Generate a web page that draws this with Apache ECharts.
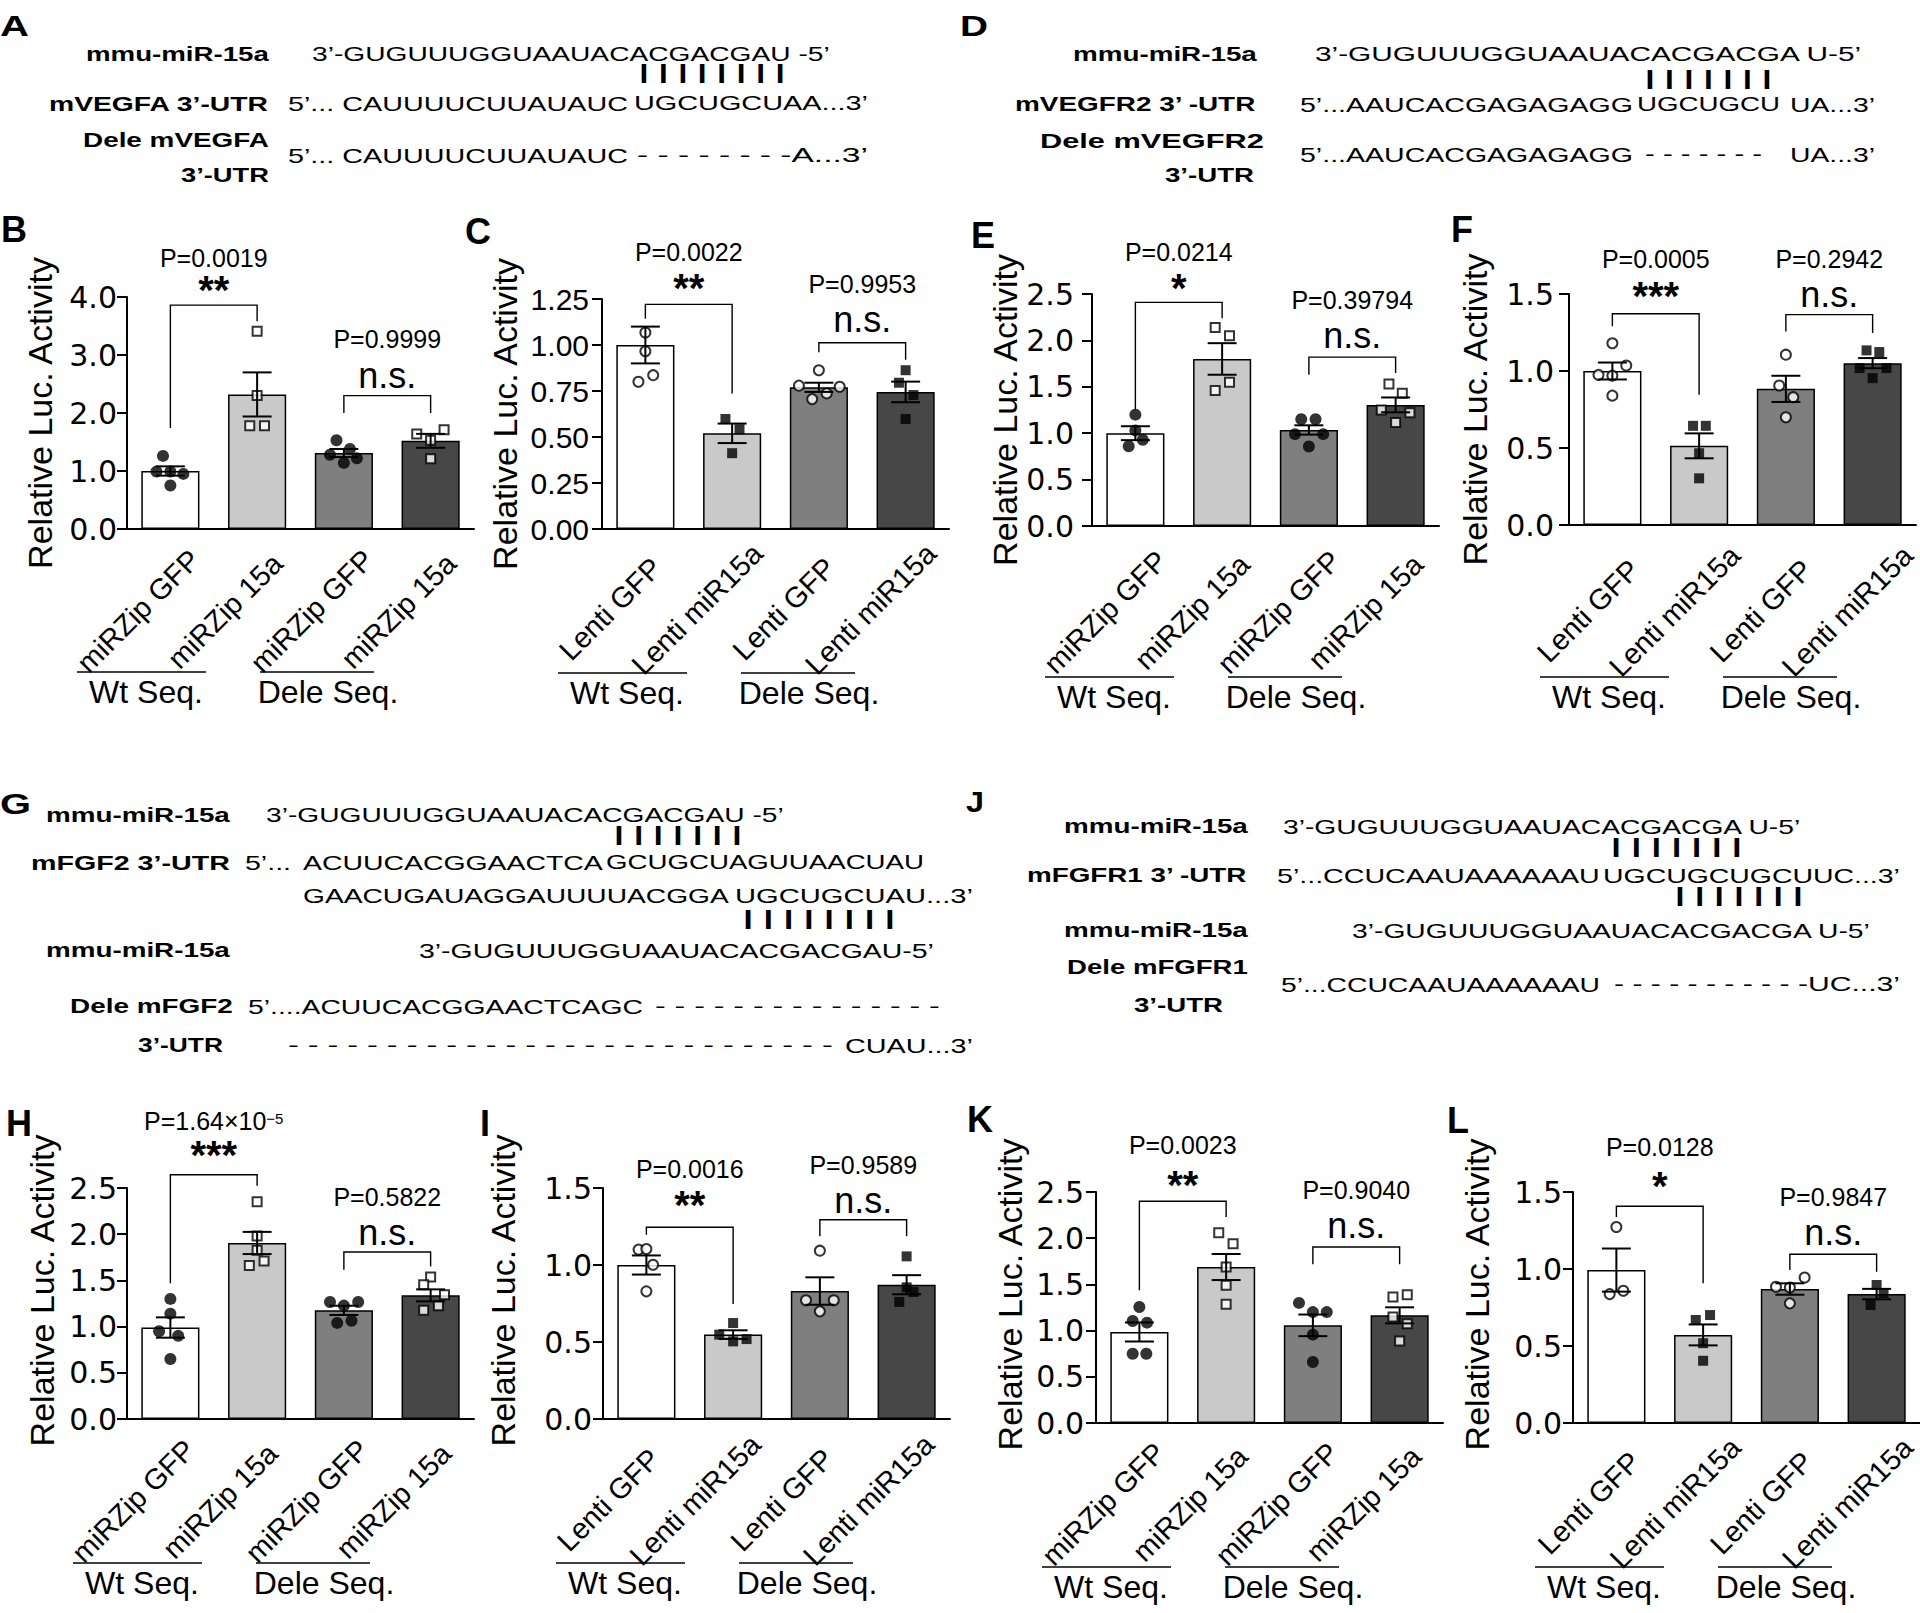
<!DOCTYPE html>
<html><head><meta charset="utf-8">
<script src="https://cdn.jsdelivr.net/npm/echarts@6/dist/echarts.min.js"></script>
<style>html,body{margin:0;padding:0;background:#fff}#c{width:1920px;height:1613px}</style>
</head><body><div id="c"></div>
<script>
// ---------------- DATA ----------------
const catsMiRZip = ['miRZip GFP', 'miRZip 15a', 'miRZip GFP', 'miRZip 15a'];
const catsLenti = ['Lenti GFP', 'Lenti miR15a', 'Lenti GFP', 'Lenti miR15a'];
const groupLabels = ['Wt Seq.', 'Dele Seq.'];
const yAxisTitle = 'Relative Luc. Activity';

const B_means = [1.00, 2.32, 1.31, 1.52];
const B_sem = [0.08, 0.38, 0.07, 0.12];
const B_points = [[1.26, 0.99, 0.99, 0.95, 0.75], [3.41, 2.30, 1.78, 1.78], [1.53, 1.28, 1.38, 1.22, 1.14], [1.64, 1.71, 1.53, 1.21]];
const B_jitter = [[-0.085, -0.16, 0, 0.15, 0], [0, 0, -0.085, 0.085], [-0.085, -0.16, 0.07, 0.15, 0], [-0.16, 0.155, 0, 0]];
const B_ticks = [0.0, 1.0, 2.0, 3.0, 4.0];
const B_pvalues = ['P=0.0019', 'P=0.9999'];
const B_sig = ['**', 'n.s.'];

const C_means = [1.00, 0.52, 0.77, 0.745];
const C_sem = [0.10, 0.053, 0.025, 0.056];
const C_points = [[1.068, 0.966, 0.80, 0.836], [0.598, 0.542, 0.412], [0.863, 0.779, 0.773, 0.706, 0.737], [0.863, 0.795, 0.728, 0.598]];
const C_jitter = [[0, 0, -0.08, 0.09], [-0.077, 0.085, 0], [0, -0.23, 0.24, -0.077, 0.09], [0, -0.077, 0.09, 0]];
const C_ticks = [0.00, 0.25, 0.50, 0.75, 1.00, 1.25];
const C_pvalues = ['P=0.0022', 'P=0.9953'];
const C_sig = ['**', 'n.s.'];

const E_means = [1.00, 1.80, 1.035, 1.305];
const E_sem = [0.075, 0.17, 0.05, 0.08];
const E_points = [[1.20, 1.03, 0.93, 0.86], [2.14, 2.05, 1.55, 1.46], [1.15, 1.15, 0.99, 0.99, 0.856], [1.53, 1.43, 1.25, 1.22, 1.115]];
const E_jitter = [[0, 0, 0.085, -0.077], [-0.08, 0.085, 0.085, -0.08], [-0.088, 0.077, -0.16, 0.165, 0], [-0.077, 0.077, -0.165, 0.165, 0]];
const E_ticks = [0.0, 0.5, 1.0, 1.5, 2.0, 2.5];
const E_pvalues = ['P=0.0214', 'P=0.39794'];
const E_sig = ['*', 'n.s.'];

const F_means = [1.00, 0.514, 0.884, 1.051];
const F_sem = [0.055, 0.081, 0.085, 0.033];
const F_points = [[1.18, 1.036, 0.975, 0.97, 0.84], [0.644, 0.644, 0.466, 0.303], [1.106, 0.906, 0.83, 0.70], [1.134, 1.123, 1.019, 1.019, 0.954]];
const F_jitter = [[0, 0.16, -0.16, 0, 0], [-0.07, 0.077, 0, 0], [0, -0.077, 0.085, 0], [-0.07, 0.077, -0.15, 0.16, 0]];
const F_ticks = [0.0, 0.5, 1.0, 1.5];
const F_pvalues = ['P=0.0005', 'P=0.2942'];
const F_sig = ['***', 'n.s.'];

const H_means = [0.99, 1.905, 1.176, 1.338];
const H_sem = [0.11, 0.12, 0.05, 0.065];
const H_points = [[1.30, 1.14, 0.95, 0.90, 0.65], [2.35, 1.98, 1.825, 1.66, 1.71], [1.266, 1.266, 1.227, 1.04, 1.064], [1.537, 1.454, 1.346, 1.227, 1.176]];
const H_jitter = [[0, 0, -0.13, 0.09, 0], [0, 0, 0, -0.09, 0.08], [-0.16, 0.165, 0, -0.077, 0.088], [0, -0.08, 0.16, 0.09, -0.08]];
const H_ticks = [0.0, 0.5, 1.0, 1.5, 2.0, 2.5];
const H_pvalues = ['P=1.64×10{sup|−5}', 'P=0.5822'];
const H_sig = ['***', 'n.s.'];

const I_means = [1.00, 0.548, 0.831, 0.872];
const I_sem = [0.062, 0.028, 0.089, 0.062];
const I_points = [[1.10, 1.104, 1.002, 0.829], [0.623, 0.548, 0.519, 0.504], [1.093, 0.771, 0.771, 0.699], [1.056, 0.855, 0.825, 0.76]];
const I_jitter = [[-0.09, 0, 0.077, 0], [0, -0.16, 0.155, 0], [0, -0.16, 0.16, 0], [0, 0, 0.08, -0.085]];
const I_ticks = [0.0, 0.5, 1.0, 1.5];
const I_pvalues = ['P=0.0016', 'P=0.9589'];
const I_sig = ['**', 'n.s.'];

const K_means = [0.985, 1.688, 1.057, 1.165];
const K_sem = [0.103, 0.141, 0.117, 0.087];
const K_points = [[1.255, 1.104, 1.086, 0.75, 0.75], [2.06, 1.94, 1.688, 1.49, 1.284], [1.30, 1.20, 1.20, 0.956, 0.66], [1.364, 1.389, 1.147, 1.075, 0.887]];
const K_jitter = [[0, -0.077, 0.088, -0.077, 0.08], [-0.085, 0.08, 0, 0, 0], [-0.16, 0, 0.16, 0, 0], [-0.077, 0.088, -0.077, 0.088, 0]];
const K_ticks = [0.0, 0.5, 1.0, 1.5, 2.0, 2.5];
const K_pvalues = ['P=0.0023', 'P=0.9040'];
const K_sig = ['**', 'n.s.'];

const L_means = [0.993, 0.572, 0.87, 0.837];
const L_sem = [0.14, 0.068, 0.037, 0.034];
const L_points = [[1.273, 0.837, 0.859], [0.669, 0.701, 0.518, 0.404], [0.885, 0.88, 0.945, 0.777], [0.896, 0.842, 0.766]];
const L_jitter = [[0, -0.077, 0.08], [-0.085, 0.08, 0, 0], [-0.16, 0, 0.17, 0], [0, 0.08, -0.07]];
const L_ticks = [0.0, 0.5, 1.0, 1.5];
const L_pvalues = ['P=0.0128', 'P=0.9847'];
const L_sig = ['*', 'n.s.'];

// bracket geometry in data units: [fromCat, toCat, topValue, leftLegEnd, rightLegEnd]
const B_brackets = [[0, 1, 3.86, 1.74, 3.58], [2, 3, 2.30, 2.0, 2.0]];
const C_brackets = [[0, 1, 1.221, 1.143, 0.737], [2, 3, 1.012, 0.96, 0.92]];
const E_brackets = [[0, 1, 2.41, 1.25, 2.24], [2, 3, 1.82, 1.63, 1.65]];
const F_brackets = [[0, 1, 1.372, 1.29, 0.845], [2, 3, 1.366, 1.257, 1.246]];
const H_brackets = [[0, 1, 2.644, 1.47, 2.525], [2, 3, 1.807, 1.616, 1.65]];
const I_brackets = [[0, 1, 1.245, 1.197, 0.747], [2, 3, 1.294, 1.186, 1.186]];
const K_brackets = [[0, 1, 2.40, 1.436, 2.23], [2, 3, 1.905, 1.717, 1.717]];
const L_brackets = [[0, 1, 1.407, 1.338, 0.907], [2, 3, 1.096, 0.993, 0.982]];

// ---------------- LAYOUT / STYLE ----------------
const FONT = '"Liberation Sans", Arial, sans-serif';
const WIDE = '"DejaVu Sans", sans-serif';
const BAR_COLORS = ['#ffffff', '#c9c9c9', '#7f7f7f', '#474747'];
const W = 347;
const P_SIZE = 25, NS_SIZE = 36, STAR_SIZE = 40;
const LAYOUT = {
  B: {x0: 127, top: 297, bottom: 529, labelDx: -32, labelDy: 82, tickMargin: 10, nameGap: 70, nameShift: 0, s: -3, gy: 143, gaps: [[38, 13], [46, 8]], letter: [14, 229], tickFont: WIDE},
  C: {x0: 602, top: 299, bottom: 529, labelDx: -35, labelDy: 80, tickMargin: 13, nameGap: 80, nameShift: 0, s: 3, gy: 144, gaps: [[44, 14], [45, 11]], letter: [478, 231], tickFont: FONT},
  E: {x0: 1092, top: 294, bottom: 526, labelDx: -30, labelDy: 86, tickMargin: 18, nameGap: 63, nameShift: 0, s: 0, gy: 151, gaps: [[42, 12], [46, 9]], letter: [983, 235], tickFont: WIDE},
  F: {x0: 1569, top: 294, bottom: 525, labelDx: -24, labelDy: 86, tickMargin: 15, nameGap: 77, nameShift: 0, s: 18, gy: 152, gaps: [[46, 16], [43, 8]], letter: [1462, 229], tickFont: WIDE},
  H: {x0: 127, top: 1188, bottom: 1419, labelDx: -37, labelDy: 82, tickMargin: 10, nameGap: 68, nameShift: 13, s: -7, gy: 144, gaps: [[45, 18], [43, 7]], letter: [19, 1123], tickFont: WIDE},
  I: {x0: 603, top: 1188, bottom: 1419, labelDx: -38, labelDy: 81, tickMargin: 11, nameGap: 83, nameShift: 13, s: 0, gy: 144, gaps: [[50, 20], [42, 7]], letter: [485, 1123], tickFont: WIDE},
  K: {x0: 1096, top: 1192, bottom: 1423, labelDx: -36, labelDy: 81, tickMargin: 12, nameGap: 69, nameShift: 13, s: -7, gy: 144, gaps: [[47, 14], [42, 9]], letter: [980, 1119], tickFont: WIDE},
  L: {x0: 1573, top: 1192, bottom: 1423, labelDx: -27, labelDy: 80, tickMargin: 11, nameGap: 79, nameShift: 13, s: 9, gy: 144, gaps: [[51, 18], [42, 9]], letter: [1458, 1120], tickFont: WIDE}
};

const panels = [
  {key: 'B', cats: catsMiRZip, means: B_means, sem: B_sem, pts: B_points, jit: B_jitter, ticks: B_ticks, pv: B_pvalues, sig: B_sig, br: B_brackets, dec: 1, lenti: false},
  {key: 'C', cats: catsLenti, means: C_means, sem: C_sem, pts: C_points, jit: C_jitter, ticks: C_ticks, pv: C_pvalues, sig: C_sig, br: C_brackets, dec: 2, lenti: true},
  {key: 'E', cats: catsMiRZip, means: E_means, sem: E_sem, pts: E_points, jit: E_jitter, ticks: E_ticks, pv: E_pvalues, sig: E_sig, br: E_brackets, dec: 1, lenti: false},
  {key: 'F', cats: catsLenti, means: F_means, sem: F_sem, pts: F_points, jit: F_jitter, ticks: F_ticks, pv: F_pvalues, sig: F_sig, br: F_brackets, dec: 1, lenti: true},
  {key: 'H', cats: catsMiRZip, means: H_means, sem: H_sem, pts: H_points, jit: H_jitter, ticks: H_ticks, pv: H_pvalues, sig: H_sig, br: H_brackets, dec: 1, lenti: false},
  {key: 'I', cats: catsLenti, means: I_means, sem: I_sem, pts: I_points, jit: I_jitter, ticks: I_ticks, pv: I_pvalues, sig: I_sig, br: I_brackets, dec: 1, lenti: true},
  {key: 'K', cats: catsMiRZip, means: K_means, sem: K_sem, pts: K_points, jit: K_jitter, ticks: K_ticks, pv: K_pvalues, sig: K_sig, br: K_brackets, dec: 1, lenti: false},
  {key: 'L', cats: catsLenti, means: L_means, sem: L_sem, pts: L_points, jit: L_jitter, ticks: L_ticks, pv: L_pvalues, sig: L_sig, br: L_brackets, dec: 1, lenti: true}
];

// sequence panels: [text, xLeft, xRight, yCenter, kind]
const seqTexts = [
  ['A', 0, 29, 26, 'letter'],
  ['mmu-miR-15a', 86, 269, 54, true],
  ['3’-GUGUUUGGUAAUACACGACGAU -5’', 312, 830, 54, false],
  ['| | | | | | | |', 639, 785, 72, 'bar'],
  ['mVEGFA 3’-UTR', 49, 269, 103, true],
  ['5’... CAUUUUCUUAUAUC', 288, 628, 103, false],
  ['UGCUGCUAA...3’', 634, 868, 103, false],
  ['Dele mVEGFA', 83, 269, 140, true],
  ['5’... CAUUUUCUUAUAUC', 288, 628, 155, false],
  ['- - - - - - - -A...3’', 637, 868, 155, false],
  ['3’-UTR', 181, 269, 175, true],

  ['D', 960, 988, 26, 'letter'],
  ['mmu-miR-15a', 1073, 1257, 54, true],
  ['3’-GUGUUUGGUAAUACACGACGA U-5’', 1315, 1863, 54, false],
  ['| | | | | | |', 1645, 1772, 78, 'bar'],
  ['mVEGFR2 3’ -UTR', 1015, 1257, 104, true],
  ['5’...AAUCACGAGAGAGG', 1300, 1633, 104, false],
  ['UGCUGCU', 1637, 1780, 104, false],
  ['UA...3’', 1790, 1875, 104, false],
  ['Dele mVEGFR2', 1040, 1264, 141, true],
  ['5’...AAUCACGAGAGAGG', 1300, 1633, 154, false],
  ['- - - - - - -', 1645, 1762, 154, false],
  ['UA...3’', 1790, 1875, 154, false],
  ['3’-UTR', 1165, 1254, 175, true],

  ['G', 0, 31, 803, 'letter'],
  ['mmu-miR-15a', 46, 230, 815, true],
  ['3’-GUGUUUGGUAAUACACGACGAU -5’', 266, 784, 815, false],
  ['| | | | | | |', 614, 742, 834, 'bar'],
  ['mFGF2 3’-UTR', 31, 230, 862, true],
  ['5’...', 245, 291, 862, false],
  ['ACUUCACGGAACTCA', 303, 603, 862, false],
  ['GCUGCUAGUUAACUAU', 606, 924, 862, false],
  ['GAACUGAUAGGAUUUUACGGA', 303, 729, 896, false],
  ['UGCUGCUAU...3’', 735, 973, 896, false],
  ['| | | | | | | |', 743, 895, 918, 'bar'],
  ['mmu-miR-15a', 46, 230, 950, true],
  ['3’-GUGUUUGGUAAUACACGACGAU-5’', 419, 934, 950, false],
  ['Dele mFGF2', 70, 233, 1006, true],
  ['5’....ACUUCACGGAACTCAGC', 248, 643, 1006, false],
  ['- - - - - - - - - - - - - - -', 655, 940, 1006, false],
  ['3’-UTR', 138, 223, 1045, true],
  ['- - - - - - - - - - - - - - - - - - - - - - - - - - - -', 288, 833, 1045, false],
  ['CUAU...3’', 845, 973, 1045, false],

  ['J', 966, 984, 802, 'letter'],
  ['mmu-miR-15a', 1064, 1248, 826, true],
  ['3’-GUGUUUGGUAAUACACGACGA U-5’', 1283, 1802, 826, false],
  ['| | | | | | |', 1611, 1742, 846, 'bar'],
  ['mFGFR1 3’ -UTR', 1027, 1248, 875, true],
  ['5’...CCUCAAUAAAAAAU', 1277, 1600, 875, false],
  ['UGCUGCUGCUUC...3’', 1603, 1900, 875, false],
  ['| | | | | | |', 1675, 1803, 895, 'bar'],
  ['mmu-miR-15a', 1064, 1248, 930, true],
  ['3’-GUGUUUGGUAAUACACGACGA U-5’', 1352, 1872, 930, false],
  ['Dele mFGFR1', 1067, 1248, 967, true],
  ['5’...CCUCAAUAAAAAAU', 1281, 1600, 984, false],
  ['- - - - - - - - - - -UC...3’', 1614, 1900, 984, false],
  ['3’-UTR', 1134, 1223, 1005, true]
];

// ---------------- BUILD ----------------
const measureCtx = document.createElement('canvas').getContext('2d');
function fitText(t, x0, x1, yc, kind) {
  let size = 21, weight = '', lh = 16;
  if (kind === true) { weight = 'bold '; }
  if (kind === 'bar') { weight = 'bold '; size = 20; lh = 16; }
  if (kind === 'letter') { weight = 'bold '; size = 30; lh = 24; }
  const font = weight + size + 'px ' + FONT;
  measureCtx.font = font;
  const w = measureCtx.measureText(t).width;
  return {type: 'text', x: x0, y: yc, scaleX: (x1 - x0) / w, silent: true,
    style: {text: t, font: font, fill: '#000', align: 'left', verticalAlign: 'middle', lineHeight: lh}};
}

const option = {animation: false, backgroundColor: '#ffffff', grid: [], xAxis: [], yAxis: [], series: [], graphic: {elements: []}};
const G = option.graphic.elements;
seqTexts.forEach(r => G.push(fitText(r[0], r[1], r[2], r[3], r[4])));

panels.forEach(p => {
  const Lo = LAYOUT[p.key];
  const h = Lo.bottom - Lo.top;
  const gMain = option.grid.length;
  option.grid.push({left: Lo.x0, top: Lo.top, width: W, height: h});
  const gLab = option.grid.length;
  option.grid.push({left: Lo.x0 + Lo.labelDx, top: Lo.top, width: W, height: h});

  const xCat = option.xAxis.length;
  option.xAxis.push({type: 'category', gridIndex: gMain, data: p.cats,
    axisLine: {onZero: false, lineStyle: {color: '#000', width: 2}},
    axisTick: {alignWithLabel: true, length: 10, lineStyle: {color: '#000', width: 2}},
    axisLabel: {show: false}, splitLine: {show: false}});
  const xVal = option.xAxis.length;
  option.xAxis.push({type: 'value', gridIndex: gMain, min: -0.5, max: 3.5, show: false});
  option.xAxis.push({type: 'category', gridIndex: gLab, data: p.cats,
    axisLine: {show: false}, axisTick: {show: false}, splitLine: {show: false},
    axisLabel: {interval: 0, rotate: 45, align: 'center', verticalAlign: 'middle', margin: Lo.labelDy,
      color: '#000', fontSize: 29, fontFamily: FONT, lineHeight: 22}});

  const step = p.ticks[1] - p.ticks[0];
  const yMain = option.yAxis.length;
  option.yAxis.push({type: 'value', gridIndex: gMain, min: p.ticks[0], max: p.ticks[p.ticks.length - 1], interval: step,
    axisLine: {show: true, onZero: false, lineStyle: {color: '#000', width: 2}},
    axisTick: {show: true, length: 10, lineStyle: {color: '#000', width: 2}},
    splitLine: {show: false},
    axisLabel: {margin: Lo.tickMargin, color: '#000', fontSize: 30, fontFamily: Lo.tickFont,
      formatter: v => v.toFixed(p.dec)},
    name: yAxisTitle, nameLocation: 'middle', nameGap: Lo.nameGap, nameRotate: 90,
    nameTextStyle: {fontSize: 34, fontFamily: FONT, color: '#000', padding: [0, 0, 0, 2 * Lo.nameShift]}});
  option.yAxis.push({type: 'value', gridIndex: gLab, show: false});

  option.series.push({type: 'bar', xAxisIndex: xCat, yAxisIndex: yMain, barWidth: '67%', silent: true, z: 2,
    itemStyle: {borderColor: '#000', borderWidth: 1.5},
    data: p.means.map((v, i) => ({value: v, itemStyle: {color: BAR_COLORS[i]}}))});

  const circ = [], sq = [];
  p.pts.forEach((arr, i) => arr.forEach((v, j) => { (i % 2 === 0 ? circ : sq).push([i + p.jit[i][j], v]); }));
  const filled = {color: '#000', borderColor: '#000', borderWidth: 0};
  const open = {color: '#fff', borderColor: '#000', borderWidth: 2};
  option.series.push({type: 'scatter', xAxisIndex: xVal, yAxisIndex: yMain, silent: true, z: 3,
    symbol: 'circle', symbolSize: p.lenti ? 10 : 12, itemStyle: p.lenti ? open : filled, data: circ});
  option.series.push({type: 'scatter', xAxisIndex: xVal, yAxisIndex: yMain, silent: true, z: 3,
    symbol: 'rect', symbolSize: p.lenti ? 10 : 9, itemStyle: p.lenti ? filled : open, data: sq});

  // error bars (mean ± SEM)
  option.series.push({type: 'custom', xAxisIndex: xVal, yAxisIndex: yMain, silent: true, z: 4,
    data: p.means.map((m, i) => [i, m, p.sem[i]]),
    encode: {x: 0, y: 1},
    renderItem: (params, api) => {
      const x = api.value(0), m = api.value(1), s = api.value(2);
      const hi = api.coord([x, m + s]), lo = api.coord([x, m - s]);
      const hw = api.size([0.167, 0])[0];
      const st = {stroke: '#000', lineWidth: 2, fill: null};
      return {type: 'group', children: [
        {type: 'line', shape: {x1: hi[0], y1: hi[1], x2: lo[0], y2: lo[1]}, style: st},
        {type: 'line', shape: {x1: hi[0] - hw, y1: hi[1], x2: hi[0] + hw, y2: hi[1]}, style: st},
        {type: 'line', shape: {x1: lo[0] - hw, y1: lo[1], x2: lo[0] + hw, y2: lo[1]}, style: st}
      ]};
    }});

  // significance brackets + labels
  option.series.push({type: 'custom', xAxisIndex: xVal, yAxisIndex: yMain, silent: true, z: 5,
    data: p.br,
    encode: {x: [0, 1], y: [2, 3, 4]},
    renderItem: (params, api) => {
      const k = params.dataIndex;
      const a = api.coord([api.value(0), api.value(2)]);
      const b = api.coord([api.value(1), api.value(2)]);
      const la = api.coord([api.value(0), api.value(3)]);
      const rb = api.coord([api.value(1), api.value(4)]);
      const cx = (a[0] + b[0]) / 2, ty = a[1];
      const gp = Lo.gaps[k];
      const sig = p.sig[k];
      const isNs = sig === 'n.s.';
      const sigBase = ty - gp[1];
      let pBase = ty - gp[0];
      if (isNs) pBase = Math.min(pBase, sigBase - 0.905 * NS_SIZE - 0.212 * P_SIZE - 1.5);
      const sigY = isNs ? sigBase - 0.35 * NS_SIZE : sigBase - 2;
      return {type: 'group', children: [
        {type: 'polyline', shape: {points: [la, a, b, rb]}, style: {stroke: '#000', lineWidth: 1.4, fill: null}},
        {type: 'text', x: cx, y: pBase - 0.35 * P_SIZE, style: {text: p.pv[k], fill: '#000', fontSize: P_SIZE, fontFamily: FONT,
          align: 'center', verticalAlign: 'middle', lineHeight: 20,
          rich: {sup: {fontSize: 15, fontFamily: FONT, fill: '#000', verticalAlign: 'top', lineHeight: 14, padding: [0, 0, 8, 0]}}}},
        {type: 'text', x: cx, y: sigY, style: {text: sig, fill: '#000', fontSize: isNs ? NS_SIZE : STAR_SIZE, lineHeight: isNs ? 24 : 14,
          fontWeight: isNs ? 'normal' : 'bold', fontFamily: FONT, align: 'center', verticalAlign: 'middle'}}
      ]};
    }});

  // group underlines and labels
  const base = Lo.x0 + Lo.s, ly = Lo.bottom + Lo.gy;
  G.push({type: 'line', silent: true, shape: {x1: base - 47, y1: ly, x2: base + 82, y2: ly}, style: {stroke: '#000', lineWidth: 1.5}});
  G.push({type: 'line', silent: true, shape: {x1: base + 136, y1: ly, x2: base + 250, y2: ly}, style: {stroke: '#000', lineWidth: 1.5}});
  G.push({type: 'text', silent: true, x: base + 22, y: ly + 20, style: {text: groupLabels[0], fill: '#000', font: '32px ' + FONT, align: 'center', verticalAlign: 'middle', lineHeight: 26}});
  G.push({type: 'text', silent: true, x: base + 204, y: ly + 20, style: {text: groupLabels[1], fill: '#000', font: '32px ' + FONT, align: 'center', verticalAlign: 'middle', lineHeight: 26}});
  G.push({type: 'text', silent: true, x: Lo.letter[0], y: Lo.letter[1], style: {text: p.key, fill: '#000', font: 'bold 36px ' + FONT, align: 'center', verticalAlign: 'middle', lineHeight: 28}});
});

const chart = echarts.init(document.getElementById('c'), null, {renderer: 'svg'});
chart.setOption(option);
</script>
</body></html>
